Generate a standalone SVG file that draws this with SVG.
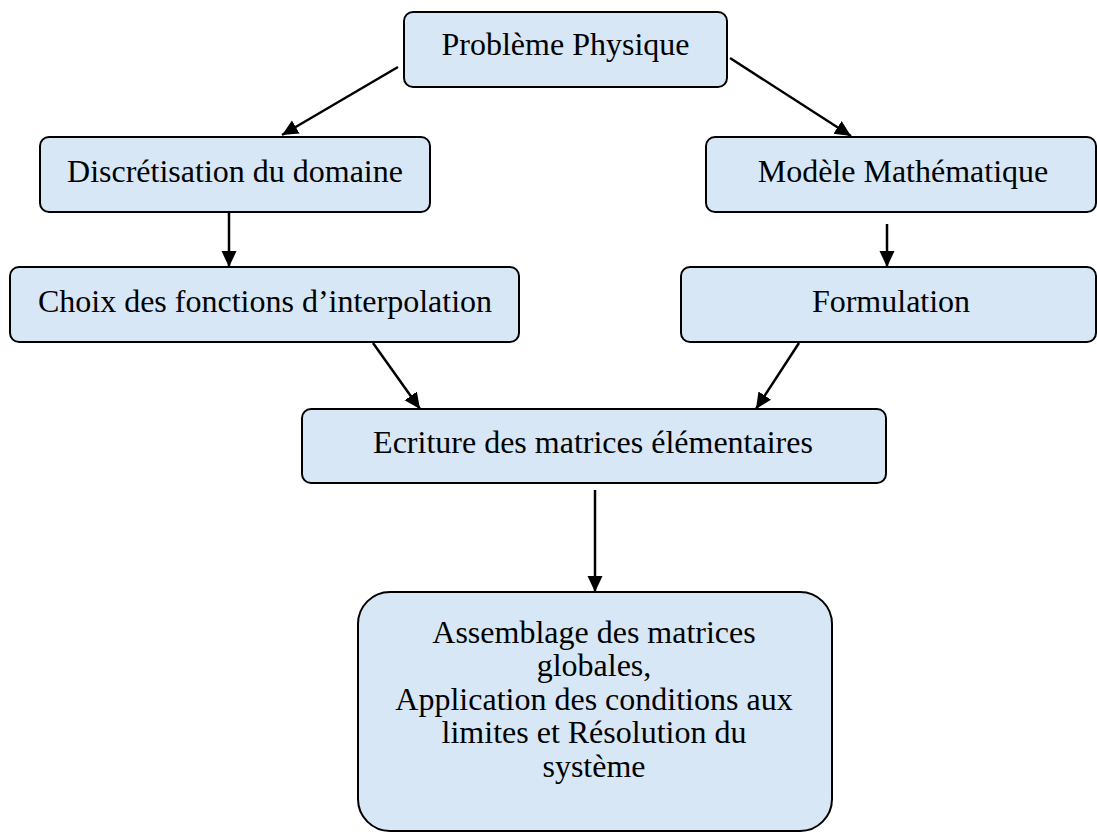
<svg xmlns="http://www.w3.org/2000/svg" width="1097" height="832" viewBox="0 0 1097 832">
  <style>
    .box { fill: #d7e7f6; stroke: #000; stroke-width: 2; }
    .lbl { font-family: "Liberation Serif", "Times New Roman", serif; font-size: 32px; fill: #000; text-anchor: middle; }
    .edge { stroke: #000; stroke-width: 2.5; fill: none; marker-end: url(#arrow); }
  </style>
  <defs>
    <marker id="arrow" markerUnits="userSpaceOnUse" markerWidth="17" markerHeight="17" viewBox="0 0 17 17" refX="16" refY="8.5" orient="auto">
      <path d="M0,1 L16,8.5 L0,16 z" fill="#000"/>
    </marker>
  </defs>
  <rect width="1097" height="832" fill="#fff"/>

  <g id="connectors">
    <line class="edge" x1="398" y1="67" x2="282" y2="135"/>
    <line class="edge" x1="730" y1="58" x2="851" y2="136"/>
    <line class="edge" x1="229" y1="212" x2="229" y2="267"/>
    <line class="edge" x1="887" y1="224" x2="887" y2="267"/>
    <line class="edge" x1="373" y1="343" x2="420" y2="409"/>
    <line class="edge" x1="799" y1="343" x2="756" y2="409"/>
    <line class="edge" x1="595" y1="490" x2="595" y2="592"/>
  </g>

  <g id="node-probleme">
    <rect class="box" x="404" y="12" width="323" height="75" rx="9"/>
    <text class="lbl" x="565.5" y="55">Problème Physique</text>
  </g>
  <g id="node-discretisation">
    <rect class="box" x="40" y="137" width="390" height="75" rx="9"/>
    <text class="lbl" x="235" y="182">Discrétisation du domaine</text>
  </g>
  <g id="node-modele">
    <rect class="box" x="706" y="137" width="390" height="75" rx="9"/>
    <text class="lbl" x="903" y="182">Modèle Mathématique</text>
  </g>
  <g id="node-choix">
    <rect class="box" x="10" y="267" width="509" height="75" rx="9"/>
    <text class="lbl" x="265" y="312">Choix des fonctions d’interpolation</text>
  </g>
  <g id="node-formulation">
    <rect class="box" x="681" y="267" width="415" height="75" rx="9"/>
    <text class="lbl" x="891" y="312">Formulation</text>
  </g>
  <g id="node-ecriture">
    <rect class="box" x="302" y="409" width="584" height="74" rx="9"/>
    <text class="lbl" x="593" y="453">Ecriture des matrices élémentaires</text>
  </g>
  <g id="node-assemblage">
    <rect class="box" x="358" y="592" width="474" height="239" rx="32"/>
    <text class="lbl"><tspan x="594" y="643">Assemblage des matrices</tspan><tspan x="594" y="676">globales,</tspan><tspan x="594" y="710">Application des conditions aux</tspan><tspan x="594" y="743">limites et Résolution du</tspan><tspan x="594" y="777">système</tspan></text>
  </g>
</svg>
